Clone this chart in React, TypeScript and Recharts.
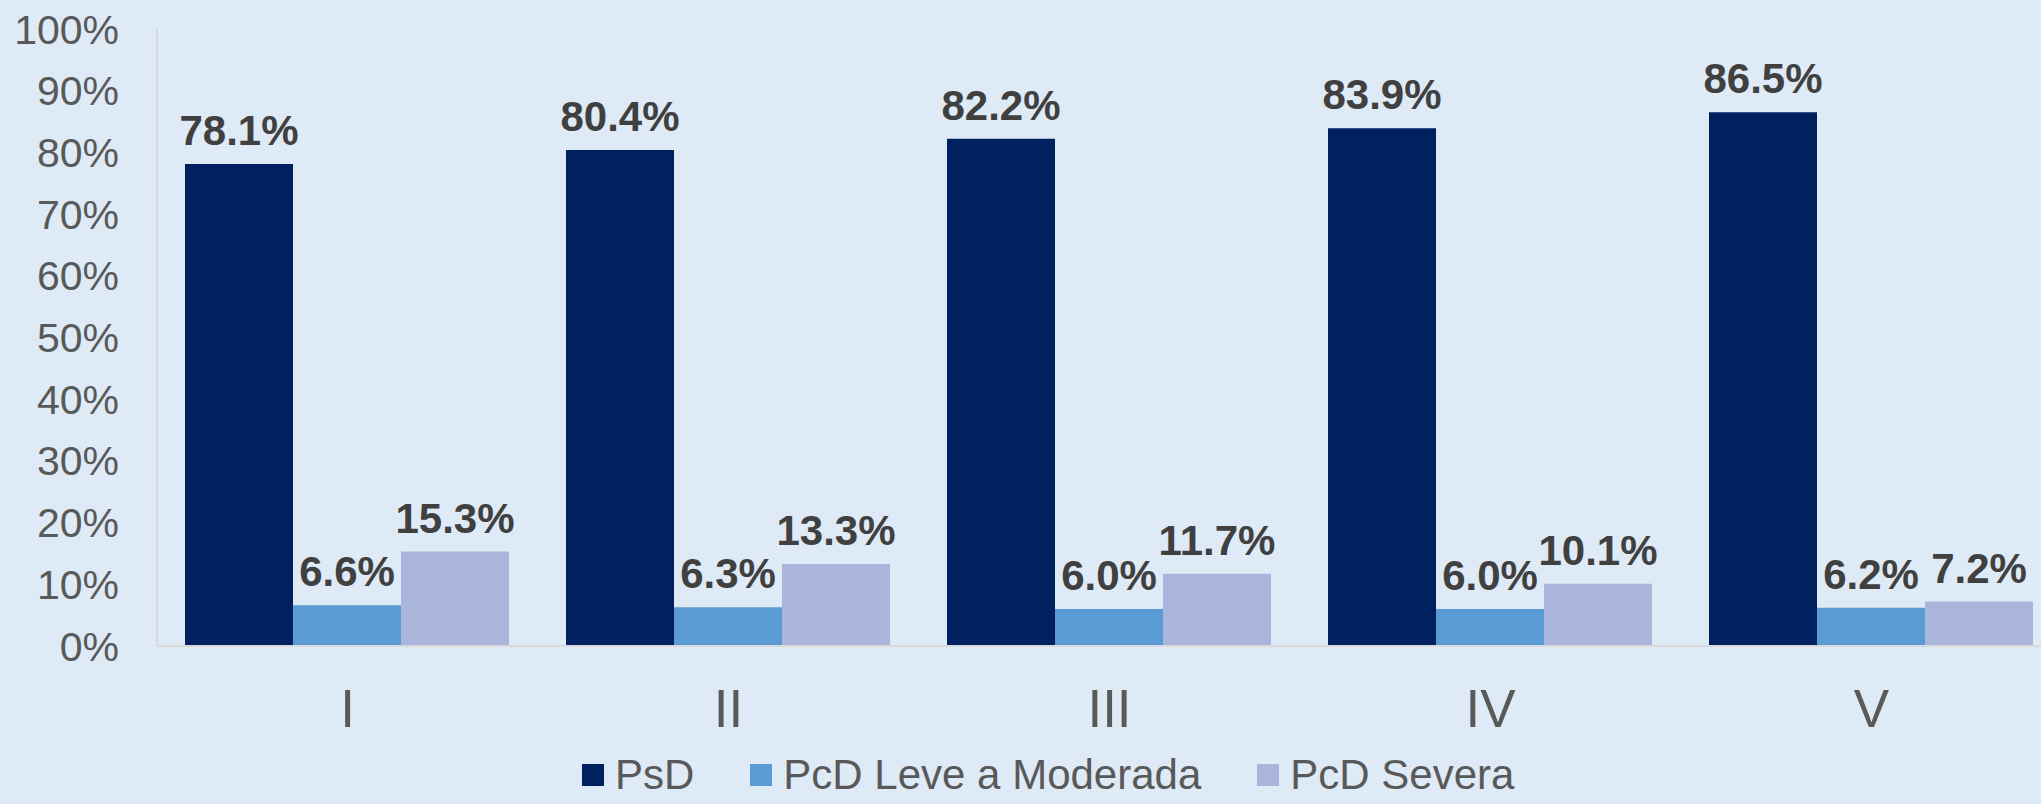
import { BarChart, Bar, XAxis, YAxis, Legend, LabelList } from 'recharts';

const categories = ['I', 'II', 'III', 'IV', 'V'];
const psd = [78.1, 80.4, 82.2, 83.9, 86.5];
const leve = [6.6, 6.3, 6.0, 6.0, 6.2];
const severa = [15.3, 13.3, 11.7, 10.1, 7.2];
const yTicks = [0, 10, 20, 30, 40, 50, 60, 70, 80, 90, 100];

const series = [
  { key: 'psd', name: 'PsD', color: '#002060' },
  { key: 'leve', name: 'PcD Leve a Moderada', color: '#5B9BD5' },
  { key: 'severa', name: 'PcD Severa', color: '#A9B5DA' },
];

const data = categories.map((cat, i) => ({
  cat,
  psd: psd[i],
  leve: leve[i],
  severa: severa[i],
}));

const font = '"Liberation Sans", Arial, sans-serif';

function ChartLegend() {
  return (
    <div style={{ display: 'flex', alignItems: 'center', fontFamily: font }}>
      {series.map((s, i) => (
        <div
          key={s.key}
          style={{ display: 'flex', alignItems: 'center', marginRight: i < series.length - 1 ? 56 : 0 }}
        >
          <div style={{ width: 22, height: 22, background: s.color, marginRight: 11 }} />
          <span style={{ fontSize: 42, lineHeight: '32px', color: '#595959', whiteSpace: 'nowrap' }}>{s.name}</span>
        </div>
      ))}
    </div>
  );
}

export default function App() {
  return (
    <div
      style={{
        position: 'absolute',
        left: 0,
        top: 0,
        width: 2041,
        height: 804,
        overflow: 'hidden',
        background: '#DEEAF6',
      }}
    >
      <BarChart
        width={2062}
        height={804}
        data={data}
        margin={{ top: 29, right: 0, bottom: 0, left: 0 }}
        barCategoryGap={28}
        barGap={0}
      >
        <XAxis
          dataKey="cat"
          height={158}
          axisLine={{ stroke: '#D9D9D9', strokeWidth: 2 }}
          tickLine={false}
          tickSize={0}
          tickMargin={43}
          tick={{ fontSize: 53, fill: '#595959', fontFamily: font }}
        />
        <YAxis
          width={157}
          domain={[0, 100]}
          ticks={yTicks}
          interval={0}
          tickFormatter={(v) => `${v}%`}
          axisLine={{ stroke: '#D9D9D9', strokeWidth: 2 }}
          tickLine={false}
          tickSize={0}
          tickMargin={38}
          tick={{ fontSize: 41, fill: '#595959', fontFamily: font }}
        />
        <Legend
          verticalAlign="middle"
          layout="horizontal"
          content={() => <ChartLegend />}
          wrapperStyle={{ left: 582, top: 759, width: 'auto', height: 'auto' }}
        />
        {series.map((s) => (
          <Bar key={s.key} dataKey={s.key} name={s.name} fill={s.color} isAnimationActive={false}>
            <LabelList
              dataKey={s.key}
              position="top"
              offset={19}
              formatter={(v: number) => `${v.toFixed(1)}%`}
              style={{ fontSize: 42, fontWeight: 'bold', fill: '#404040', fontFamily: font }}
            />
          </Bar>
        ))}
      </BarChart>
    </div>
  );
}
